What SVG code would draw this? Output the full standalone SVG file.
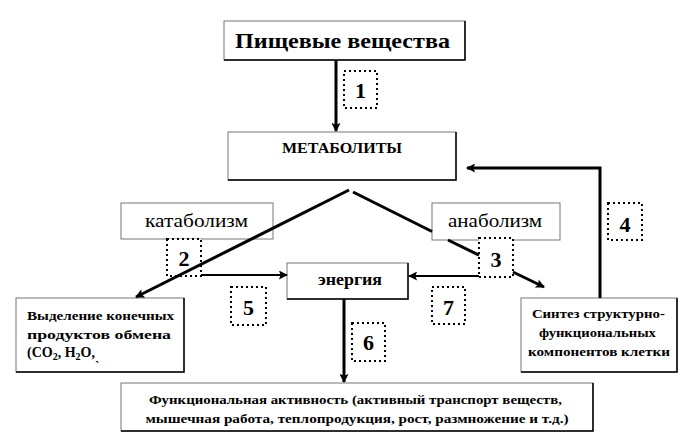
<svg xmlns="http://www.w3.org/2000/svg" width="683" height="435" viewBox="0 0 683 435">
<defs>
<style>
.box{fill:#fff;stroke:#777;stroke-width:1}
.sh{fill:none;stroke:#000;stroke-width:1.5}
.num{fill:#fff;stroke:#000;stroke-width:2;stroke-dasharray:2 3}
.b{font-weight:bold}
.n{font-size:22px;text-anchor:middle;font-weight:bold}
.thick{fill:none;stroke:#000;stroke-width:3}
.thin{fill:none;stroke:#000;stroke-width:2}
</style>
<marker id="ah" viewBox="0 0 10 10" refX="9" refY="5" markerWidth="11" markerHeight="9" markerUnits="userSpaceOnUse" orient="auto">
<path d="M0,0 L10,5 L0,10 L2,5 Z" fill="#000"/>
</marker>
</defs>
<rect width="683" height="435" fill="#fff"/>
<g font-family="'Liberation Serif', 'DejaVu Serif', serif" fill="#000">

<g id="food">
<rect class="box" x="224" y="21" width="241" height="39"/>
<polyline class="sh" points="465,21 465,60 224,60"/>
<text class="b" x="342.5" y="48" font-size="22" text-anchor="middle" textLength="215" lengthAdjust="spacingAndGlyphs">Пищевые вещества</text>
</g>

<g id="metabolites">
<rect class="box" x="228" y="132" width="228" height="48"/>
<polyline class="sh" points="456,132 456,180 228,180"/>
<text class="b" x="342" y="153" font-size="14" text-anchor="middle" textLength="120" lengthAdjust="spacingAndGlyphs">МЕТАБОЛИТЫ</text>
</g>

<g id="catabolism">
<rect class="box" x="121" y="203" width="152" height="36"/>
<text x="196.5" y="227" font-size="18" text-anchor="middle" textLength="103" lengthAdjust="spacingAndGlyphs">катаболизм</text>
</g>

<g id="anabolism">
<rect class="box" x="432" y="203" width="128" height="37"/>
<text x="495" y="227" font-size="18" text-anchor="middle" textLength="94" lengthAdjust="spacingAndGlyphs">анаболизм</text>
</g>

<g id="energy">
<rect class="box" x="287" y="263" width="121" height="36"/>
<polyline class="sh" points="408,263 408,299 287,299"/>
<text class="b" x="350" y="285" font-size="16" text-anchor="middle" textLength="64" lengthAdjust="spacingAndGlyphs">энергия</text>
</g>

<g id="excretion">
<rect class="box" x="16" y="298" width="168" height="74"/>
<polyline class="sh" points="184,298 184,372 16,372"/>
<text class="b" font-size="13">
<tspan x="27" y="320" textLength="147" lengthAdjust="spacingAndGlyphs">Выделение конечных</tspan>
<tspan x="27" y="339" textLength="144" lengthAdjust="spacingAndGlyphs">продуктов  обмена</tspan>
</text>
<text class="b" font-size="14" x="27" y="357">(CO<tspan font-size="10" dy="3">2</tspan><tspan dy="-3">, H</tspan><tspan font-size="10" dy="3">2</tspan><tspan dy="-3">O,</tspan></text>
<text class="b" font-size="13" x="95" y="370">`</text>
</g>

<g id="synthesis">
<rect class="box" x="521" y="298" width="156" height="74"/>
<polyline class="sh" points="677,298 677,372 521,372"/>
<text class="b" font-size="13" text-anchor="middle">
<tspan x="600" y="318" textLength="133" lengthAdjust="spacingAndGlyphs">Синтез структурно-</tspan>
<tspan x="599" y="337" textLength="117" lengthAdjust="spacingAndGlyphs">функциональных</tspan>
<tspan x="599" y="356" textLength="142" lengthAdjust="spacingAndGlyphs">компонентов клетки</tspan>
</text>
</g>

<g id="activity">
<rect class="box" x="121" y="383" width="472" height="48"/>
<polyline class="sh" points="593,383 593,431 121,431"/>
<text class="b" font-size="13" text-anchor="middle">
<tspan x="357" y="404" textLength="413" lengthAdjust="spacingAndGlyphs">Функциональная активность (активный транспорт веществ,</tspan>
<tspan x="357" y="423" textLength="423" lengthAdjust="spacingAndGlyphs">мышечная работа, теплопродукция, рост, размножение и т.д.)</tspan>
</text>
</g>

<g id="label1"><rect class="num" x="344" y="71" width="33" height="37"/><text class="n" x="360.5" y="98">1</text></g>
<g id="label2"><rect class="num" x="167" y="239" width="34" height="37"/><text class="n" x="184" y="266">2</text></g>
<g id="label3"><rect class="num" x="479" y="238" width="34" height="39"/><text class="n" x="496" y="267">3</text></g>
<g id="label4"><rect class="num" x="608" y="203" width="34" height="37"/><text class="n" x="625" y="232">4</text></g>
<g id="label5"><rect class="num" x="231" y="287" width="35" height="38"/><text class="n" x="248.5" y="315">5</text></g>
<g id="label6"><rect class="num" x="352" y="323" width="33" height="38"/><text class="n" x="368.5" y="350">6</text></g>
<g id="label7"><rect class="num" x="432" y="287" width="33" height="37"/><text class="n" x="448.5" y="315">7</text></g>
</g>

<g id="connectors">
<line class="thick" x1="336" y1="60" x2="336" y2="131" marker-end="url(#ah)"/>
<line class="thick" x1="349" y1="190" x2="136" y2="297" marker-end="url(#ah)"/>
<line class="thick" x1="353" y1="192" x2="432" y2="231.5"/>
<line class="thick" x1="448" y1="240" x2="479" y2="255.2"/>
<line class="thick" x1="513" y1="272" x2="544" y2="287" marker-end="url(#ah)"/>
<line class="thin" x1="201" y1="275" x2="287" y2="275" marker-end="url(#ah)"/>
<line class="thin" x1="479" y1="276" x2="409" y2="276" marker-end="url(#ah)"/>
<line class="thick" x1="344" y1="299" x2="344" y2="382" marker-end="url(#ah)"/>
<polyline class="thick" points="600,298 600,168 467,168" marker-end="url(#ah)"/>
</g>
</svg>
